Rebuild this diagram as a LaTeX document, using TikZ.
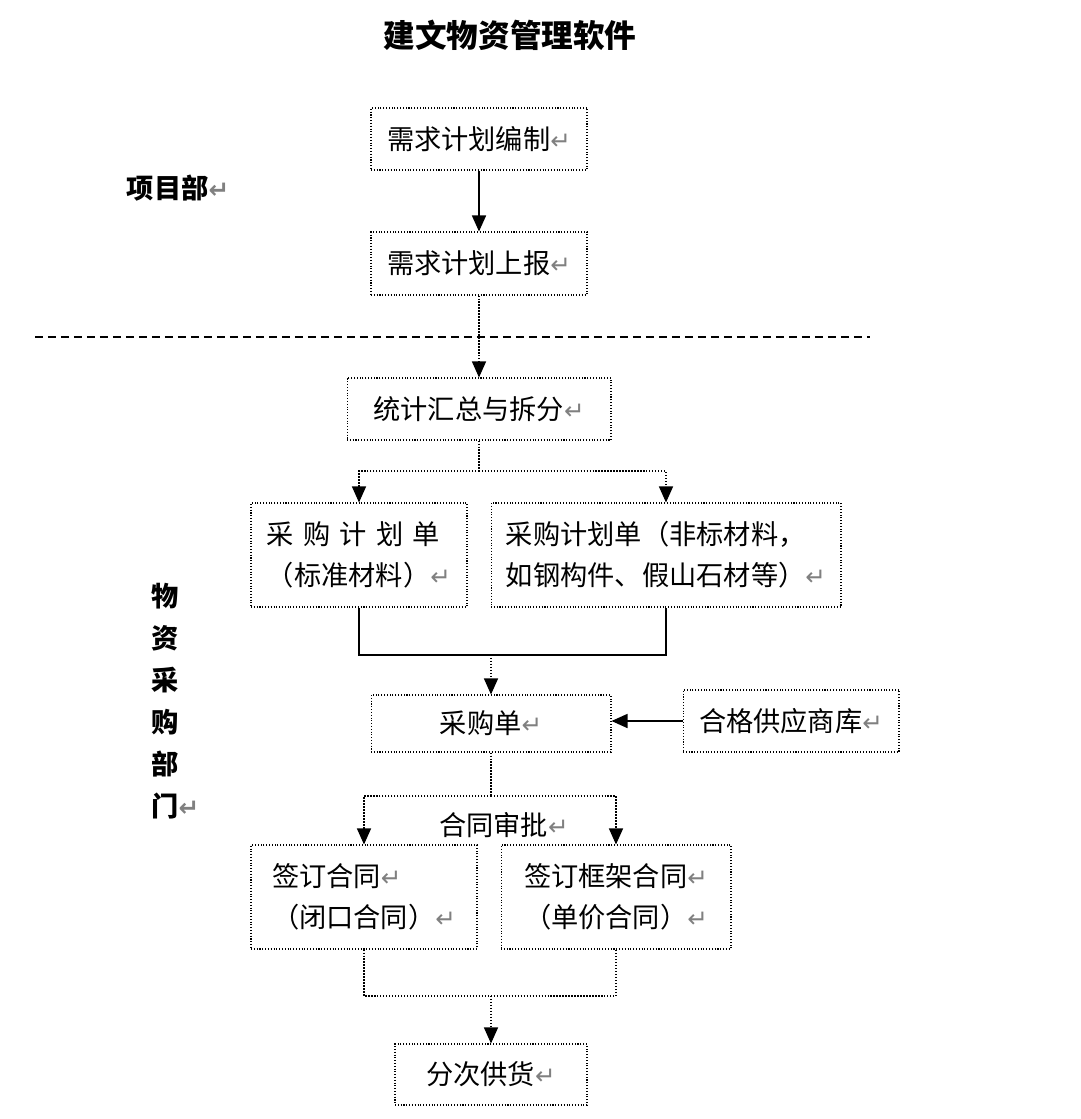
\documentclass[tikz,border=0pt]{standalone}
\usepackage{fontspec}
\newfontfamily\cjk{Noto Sans CJK SC}
\newfontfamily\symfont{DejaVu Sans}
\usetikzlibrary{arrows.meta}
\newcommand{\retmark}{{\symfont\fontsize{14pt}{14pt}\selectfont\textcolor{gray}{↵}}}
\tikzset{
  box/.style={draw, densely dotted, line width=0.6pt, align=left},
  flow/.style={densely dotted, line width=0.7pt},
  arr/.style={-{Triangle[width=0.28cm,length=0.32cm]}},
}
\begin{document}
\begin{tikzpicture}[x=0.02cm, y=-0.02cm,
    every node/.style={inner sep=0pt, font=\cjk\fontsize{15.5pt}{23.2pt}\selectfont}]
      \useasboundingbox (0,0) rectangle (1080,1119);

      \node[font=\cjk\bfseries\fontsize{18pt}{20pt}\selectfont] (title) at (510,35) {建文物资管理软件};
      \node[font=\cjk\bfseries\fontsize{15.5pt}{20pt}\selectfont] (dept1) at (178,188) {项目部\retmark};
      \node[anchor=west, align=left, font=\cjk\bfseries\fontsize{15.5pt}{23.9pt}\selectfont] (dept2) at (151,701)
        {物\\资\\采\\购\\部\\门\retmark};

      \node[box, minimum width=4.32cm, minimum height=1.24cm] (plan) at (479,139) {需求计划编制\retmark};
      \node[box, minimum width=4.32cm, minimum height=1.26cm] (report) at (479,263.5) {需求计划上报\retmark};
      \node[box, minimum width=5.28cm, minimum height=1.24cm] (sum) at (479,409) {统计汇总与拆分\retmark};

      \node[box, minimum width=4.32cm, minimum height=2.08cm] (std) at (359,555)
        {\hbox to 3.46cm{采\hfill 购\hfill 计\hfill 划\hfill 单}\\（标准材料）\retmark};
      \node[box, minimum width=7.0cm, minimum height=2.08cm] (nonstd) at (666,555)
        {采购计划单（非标材料，\\如钢构件、假山石材等）\retmark};

      \node[box, minimum width=4.8cm, minimum height=1.14cm] (order) at (491,723.5) {采购单\retmark};
      \node[box, minimum width=4.32cm, minimum height=1.24cm] (supp) at (791,721) {合格供应商库\retmark};

      \node (approve) at (504,825) {合同审批\retmark};
      \node[box, minimum width=4.52cm, minimum height=2.08cm] (closed) at (364,897)
        {签订合同\retmark\\（闭口合同）\retmark};
      \node[box, minimum width=4.6cm, minimum height=2.08cm] (frame) at (616,897)
        {签订框架合同\retmark\\（单价合同）\retmark};

      \node[box, minimum width=3.84cm, minimum height=1.22cm] (deliv) at (491,1074.5) {分次供货\retmark};

      \coordinate (s1) at (479,471);
      \coordinate (j1) at (491,655);
      \coordinate (s2) at (491,796);
      \coordinate (j2) at (491,996);

      \draw[line width=0.6pt, dash pattern=on 0.16cm off 0.1cm] (35,337) -- (870,337);

      \draw[arr, line width=0.9pt] (plan) -- (report);
      \draw[flow, arr] (report) -- (sum);
      \draw[flow] (sum.south) -- (s1);
      \draw[flow, arr] (s1) -| (std.north);
      \draw[flow, arr] (s1) -| (nonstd.north);
      \draw[line width=1.1pt] (std.south) |- (j1) -| (nonstd.south);
      \draw[flow, arr] (j1) -- (order.north);
      \draw[arr, line width=0.9pt] (supp.west) -- (supp.west -| order.east);
      \draw[flow] (order.south) -- (s2);
      \draw[flow, arr] (s2) -| (closed.north);
      \draw[flow, arr] (s2) -| (frame.north);
      \draw[flow] (closed.south) |- (j2) -| (frame.south);
      \draw[flow, arr] (j2) -- (deliv.north);
    \end{tikzpicture}
\end{document}
